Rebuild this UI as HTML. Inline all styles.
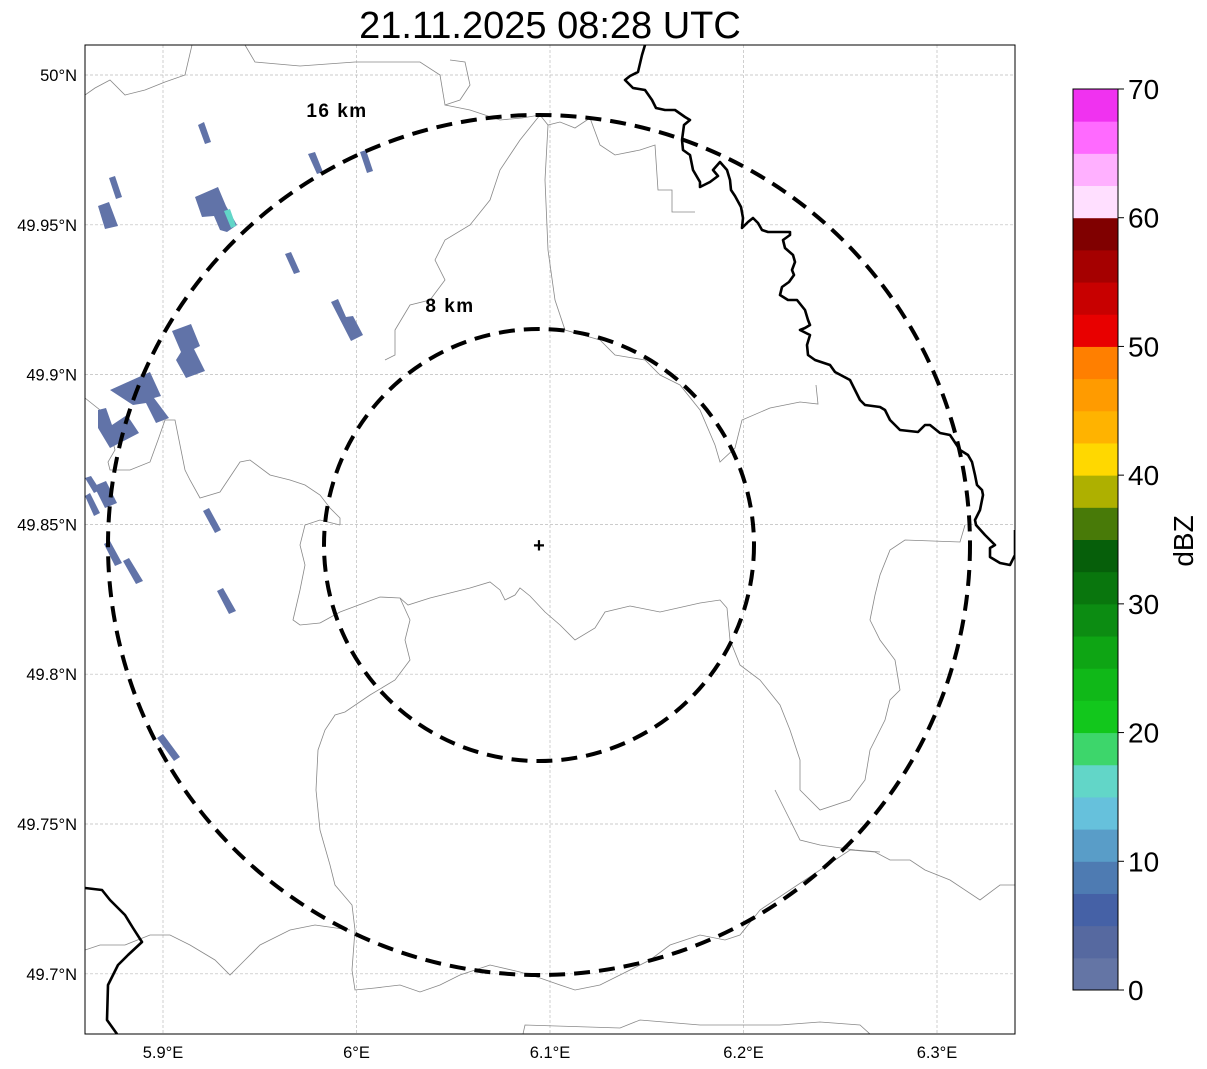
<!DOCTYPE html>
<html><head><meta charset="utf-8"><style>
html,body{margin:0;padding:0;background:#fff;}
svg{display:block;font-family:"Liberation Sans","DejaVu Sans",sans-serif;}
</style></head><body>
<svg id="chart" width="1207" height="1069" viewBox="0 0 1207 1069" xmlns="http://www.w3.org/2000/svg">
<rect width="1207" height="1069" fill="#fff"/>
<text x="550" y="38" font-size="38" text-anchor="middle" fill="#000">21.11.2025 08:28 UTC</text>
<defs><clipPath id="mapclip"><rect x="85" y="45" width="930" height="989"/></clipPath></defs>
<g id="grid"></g>
<g clip-path="url(#mapclip)">
<g fill="none" stroke="#888" stroke-width="0.8">
<polyline points="85,95 95,88 110,80 125,95 145,90 165,82 185,75 192,45"/>
<polyline points="245,45 255,62 300,66 355,62 420,62 440,75 445,105 460,100 470,85 465,62 450,60"/>
<polyline points="445,105 470,110 500,120 522,118 540,115 548,125 560,122 575,128 590,118 600,145 615,155 640,150 655,145 658,190 672,190 672,212 695,212"/>
<polyline points="540,115 520,140 500,170 490,200 470,225 445,240 435,260 445,280 430,300 410,305 395,330 395,355 385,360"/>
<polyline points="548,125 545,180 548,250 555,300 565,330 600,340 615,355 645,360 660,375 680,385 700,410 715,445 720,462 735,448 742,420 770,408 800,402 818,404 816,385"/>
<polyline points="85,398 100,410 110,430 115,450 108,462 110,470 130,470 150,462 158,440 165,420 175,420 180,445 185,470 190,480 200,498 220,492 240,462 250,460 270,475 290,480 305,485 320,495 330,508 340,518 340,525"/>
<polyline points="340,525 320,520 305,525 300,545 305,565 300,590 293,620 300,625 320,623"/>
<polyline points="320,623 340,612 380,597 400,598 408,605 430,598 470,588 490,582 500,590 505,600 515,595 520,588 530,596 545,612 560,625 575,640 595,628 605,612 630,606 660,612 700,603 720,600 727,608"/>
<polyline points="400,598 410,620 405,640 410,660 395,680 370,695 345,712 335,715 325,730 318,750 316,790 320,830 330,865 335,885 352,905 355,930 352,970 355,990 375,988 400,985 420,992 440,985 460,975 490,965 520,972 540,978 560,985 575,990 600,985 620,975 650,960 670,945 700,935 725,940 740,935 760,910 790,890 820,870 850,850 875,852 890,860 910,860 925,870 950,880 980,900 1000,885 1015,885"/>
<polyline points="85,950 100,945 125,945 150,935 170,935 190,945 215,960 230,975 245,960 260,945 290,930 315,925 350,930"/>
<polyline points="523,1034 525,1025 620,1028 640,1020 700,1025 780,1025 820,1022 860,1025 870,1034"/>
<polyline points="727,608 730,640 740,665 760,680 780,705 790,730 800,760 800,790 820,810 850,800 865,780 870,750 885,720 890,700 900,690 895,660 880,640 870,620 875,595 880,575 890,550 905,540 960,542 965,525"/>
<polyline points="775,790 790,820 800,840 820,845 855,850 880,852"/>
</g>
<g fill="#6173a8">
<polygon points="198,125 204,122 211,142 205,144"/>
<polygon points="109,178 115,176 122,197 116,199"/>
<polygon points="98,206 109,202 118,226 105,229"/>
<polygon points="195,197 218,187 226,206 237,225 227,232 220,230 214,216 202,217"/>
<polygon points="308,154 315,152 323,172 317,174"/>
<polygon points="360,152 366,150 373,171 367,173"/>
<polygon points="285,254 291,252 300,272 294,274"/>
<polygon points="331,302 338,299 346,317 353,316 363,335 351,341"/>
<polygon points="172,331 191,324 200,346 194,349 205,371 186,378 176,360 181,352"/>
<polygon points="110,390 150,372 161,396 154,398 169,418 156,423 146,403 133,405"/>
<polygon points="98,410 106,408 112,425 127,415 139,433 110,448 98,428"/>
<polygon points="85,478 91,476 100,490 94,493"/>
<polygon points="94,486 106,481 117,503 105,508"/>
<polygon points="85,496 90,493 100,513 94,516"/>
<polygon points="104,544 110,541 122,563 115,566"/>
<polygon points="123,561 129,558 143,581 136,584"/>
<polygon points="217,591 223,588 236,611 229,614"/>
<polygon points="203,511 209,508 221,530 215,533"/>
<polygon points="157,738 163,734 180,757 174,761"/>
<polygon points="224,211 230,209 236,226 231,228" fill="#62d6c8"/>
</g>
<g fill="none" stroke="#000" stroke-width="2.6" stroke-linejoin="round">
<polyline points="645,45 642,55 638,72 630,76 625,80 633,88 645,90 652,100 656,108 665,110 675,110 685,117 690,120 684,125 682,140 683,150 690,155 693,170 700,182 700,187 710,182 718,176 713,170 720,162 727,170 730,180 731,190 735,196 741,207 743,218 742,228 748,222 753,218 758,223 762,230 768,232 790,232 790,235 783,240 785,248 793,255 795,262 792,270 794,275 789,282 782,287 780,295 788,300 797,300 805,310 808,320 810,325 805,328 800,330 810,335 807,345 808,355 815,360 830,365 835,372 850,380 855,390 860,400 865,405 880,407 885,410 890,420 900,430 918,432 925,425 930,425 940,433 950,435 960,450 968,455 972,462 975,475 977,485 982,490 983,495 980,510 975,520 976,525 985,535 990,540 995,545 990,548 990,557 1000,563 1010,565 1015,555 1015,530"/>
<polyline points="85,888 102,890 110,900 125,915 133,928 142,942 128,955 118,965 108,985 107,1020 117,1034"/>
</g>
<g fill="none" stroke="#000" stroke-width="4" stroke-dasharray="16,9">
<ellipse cx="539" cy="545" rx="431" ry="430"/>
<ellipse cx="539" cy="545" rx="215" ry="216"/>
</g>
<text x="337" y="117" font-size="19" font-weight="bold" letter-spacing="1.5" text-anchor="middle">16 km</text>
<text x="450" y="312" font-size="19" font-weight="bold" letter-spacing="1.5" text-anchor="middle">8 km</text>
<text x="539" y="552" font-size="20" font-weight="bold" text-anchor="middle">+</text>
</g>
<rect x="85" y="45" width="930" height="989" fill="none" stroke="#000" stroke-width="1"/>
<g id="axes"></g>
<g id="cbar"></g>
<text transform="translate(1193,541) rotate(-90)" font-size="28" text-anchor="middle">dBZ</text>
</svg>
<script>
const lonTicks=[5.9,6.0,6.1,6.2,6.3];
const lonLabels=["5.9°E","6°E","6.1°E","6.2°E","6.3°E"];
const latTicks=[50.0,49.95,49.9,49.85,49.8,49.75,49.7];
const latLabels=["50°N","49.95°N","49.9°N","49.85°N","49.8°N","49.75°N","49.7°N"];
const cbarBounds=[0,70];
const cbarStep=2.5;
const cbarTicks=[0,10,20,30,40,50,60,70];
const cbarColors=["#6475a5","#5669a0","#4561a6","#4e7bb2","#599dc8","#66c1dc","#62d6c8","#3dd66b","#12c71c","#10b818","#0ea514","#0c8c12","#09760d","#065f0a","#487a08","#aeb000","#ffd800","#ffb300","#ff9b00","#ff7f00","#e80000","#c80000","#a50000","#800000","#ffdfff","#ffb0ff","#ff6aff","#f032f0"];
const NS="http://www.w3.org/2000/svg";
function X(lon){return 163+(lon-5.9)*1935;}
function Y(lat){return 75+(50.0-lat)*2996;}
function mk(tag,attrs,parent,txt){const e=document.createElementNS(NS,tag);for(const k in attrs)e.setAttribute(k,attrs[k]);if(txt!==undefined)e.textContent=txt;parent.appendChild(e);return e;}
const grid=document.getElementById('grid'),axes=document.getElementById('axes'),cbar=document.getElementById('cbar');
lonTicks.forEach((v,i)=>{const x=X(v);
 const g=mk('line',{x1:x,x2:x,y1:45,y2:1034,stroke:'#bbb','stroke-width':0.7,'stroke-dasharray':'3,2'},grid);
 
 
 const t=mk('text',{x:x,y:1058,'font-size':16.5,'text-anchor':'middle'},axes,lonLabels[i]);
 
 
});
latTicks.forEach((v,i)=>{const y=Y(v);
 const g=mk('line',{x1:85,x2:1015,y1:y,y2:y,stroke:'#bbb','stroke-width':0.7,'stroke-dasharray':'3,2'},grid);
 
 
 const t=mk('text',{x:77,y:y+6,'font-size':16.5,'text-anchor':'end'},axes,latLabels[i]);
 
 
});
const cx=1073,cw=45,ctop=89,cbot=990;
function CY(v){return cbot-(v-cbarBounds[0])/(cbarBounds[1]-cbarBounds[0])*(cbot-ctop);}
cbarColors.forEach((c,i)=>{const v0=i*cbarStep,v1=v0+cbarStep;
 const r=mk('rect',{x:cx,y:CY(v1),width:cw,height:CY(v0)-CY(v1)+0.5,fill:c},cbar);
 
 
});
mk('rect',{x:cx,y:ctop,width:cw,height:cbot-ctop,fill:'none',stroke:'#000','stroke-width':1},cbar);
cbarTicks.forEach(v=>{const y=CY(v);
 mk('line',{x1:cx+cw,x2:cx+cw+6,y1:y,y2:y,stroke:'#000','stroke-width':1},cbar);
 const t=mk('text',{x:cx+cw+10,y:y+10,'font-size':28},cbar,String(v));
 
 
});
</script>
</body></html>
